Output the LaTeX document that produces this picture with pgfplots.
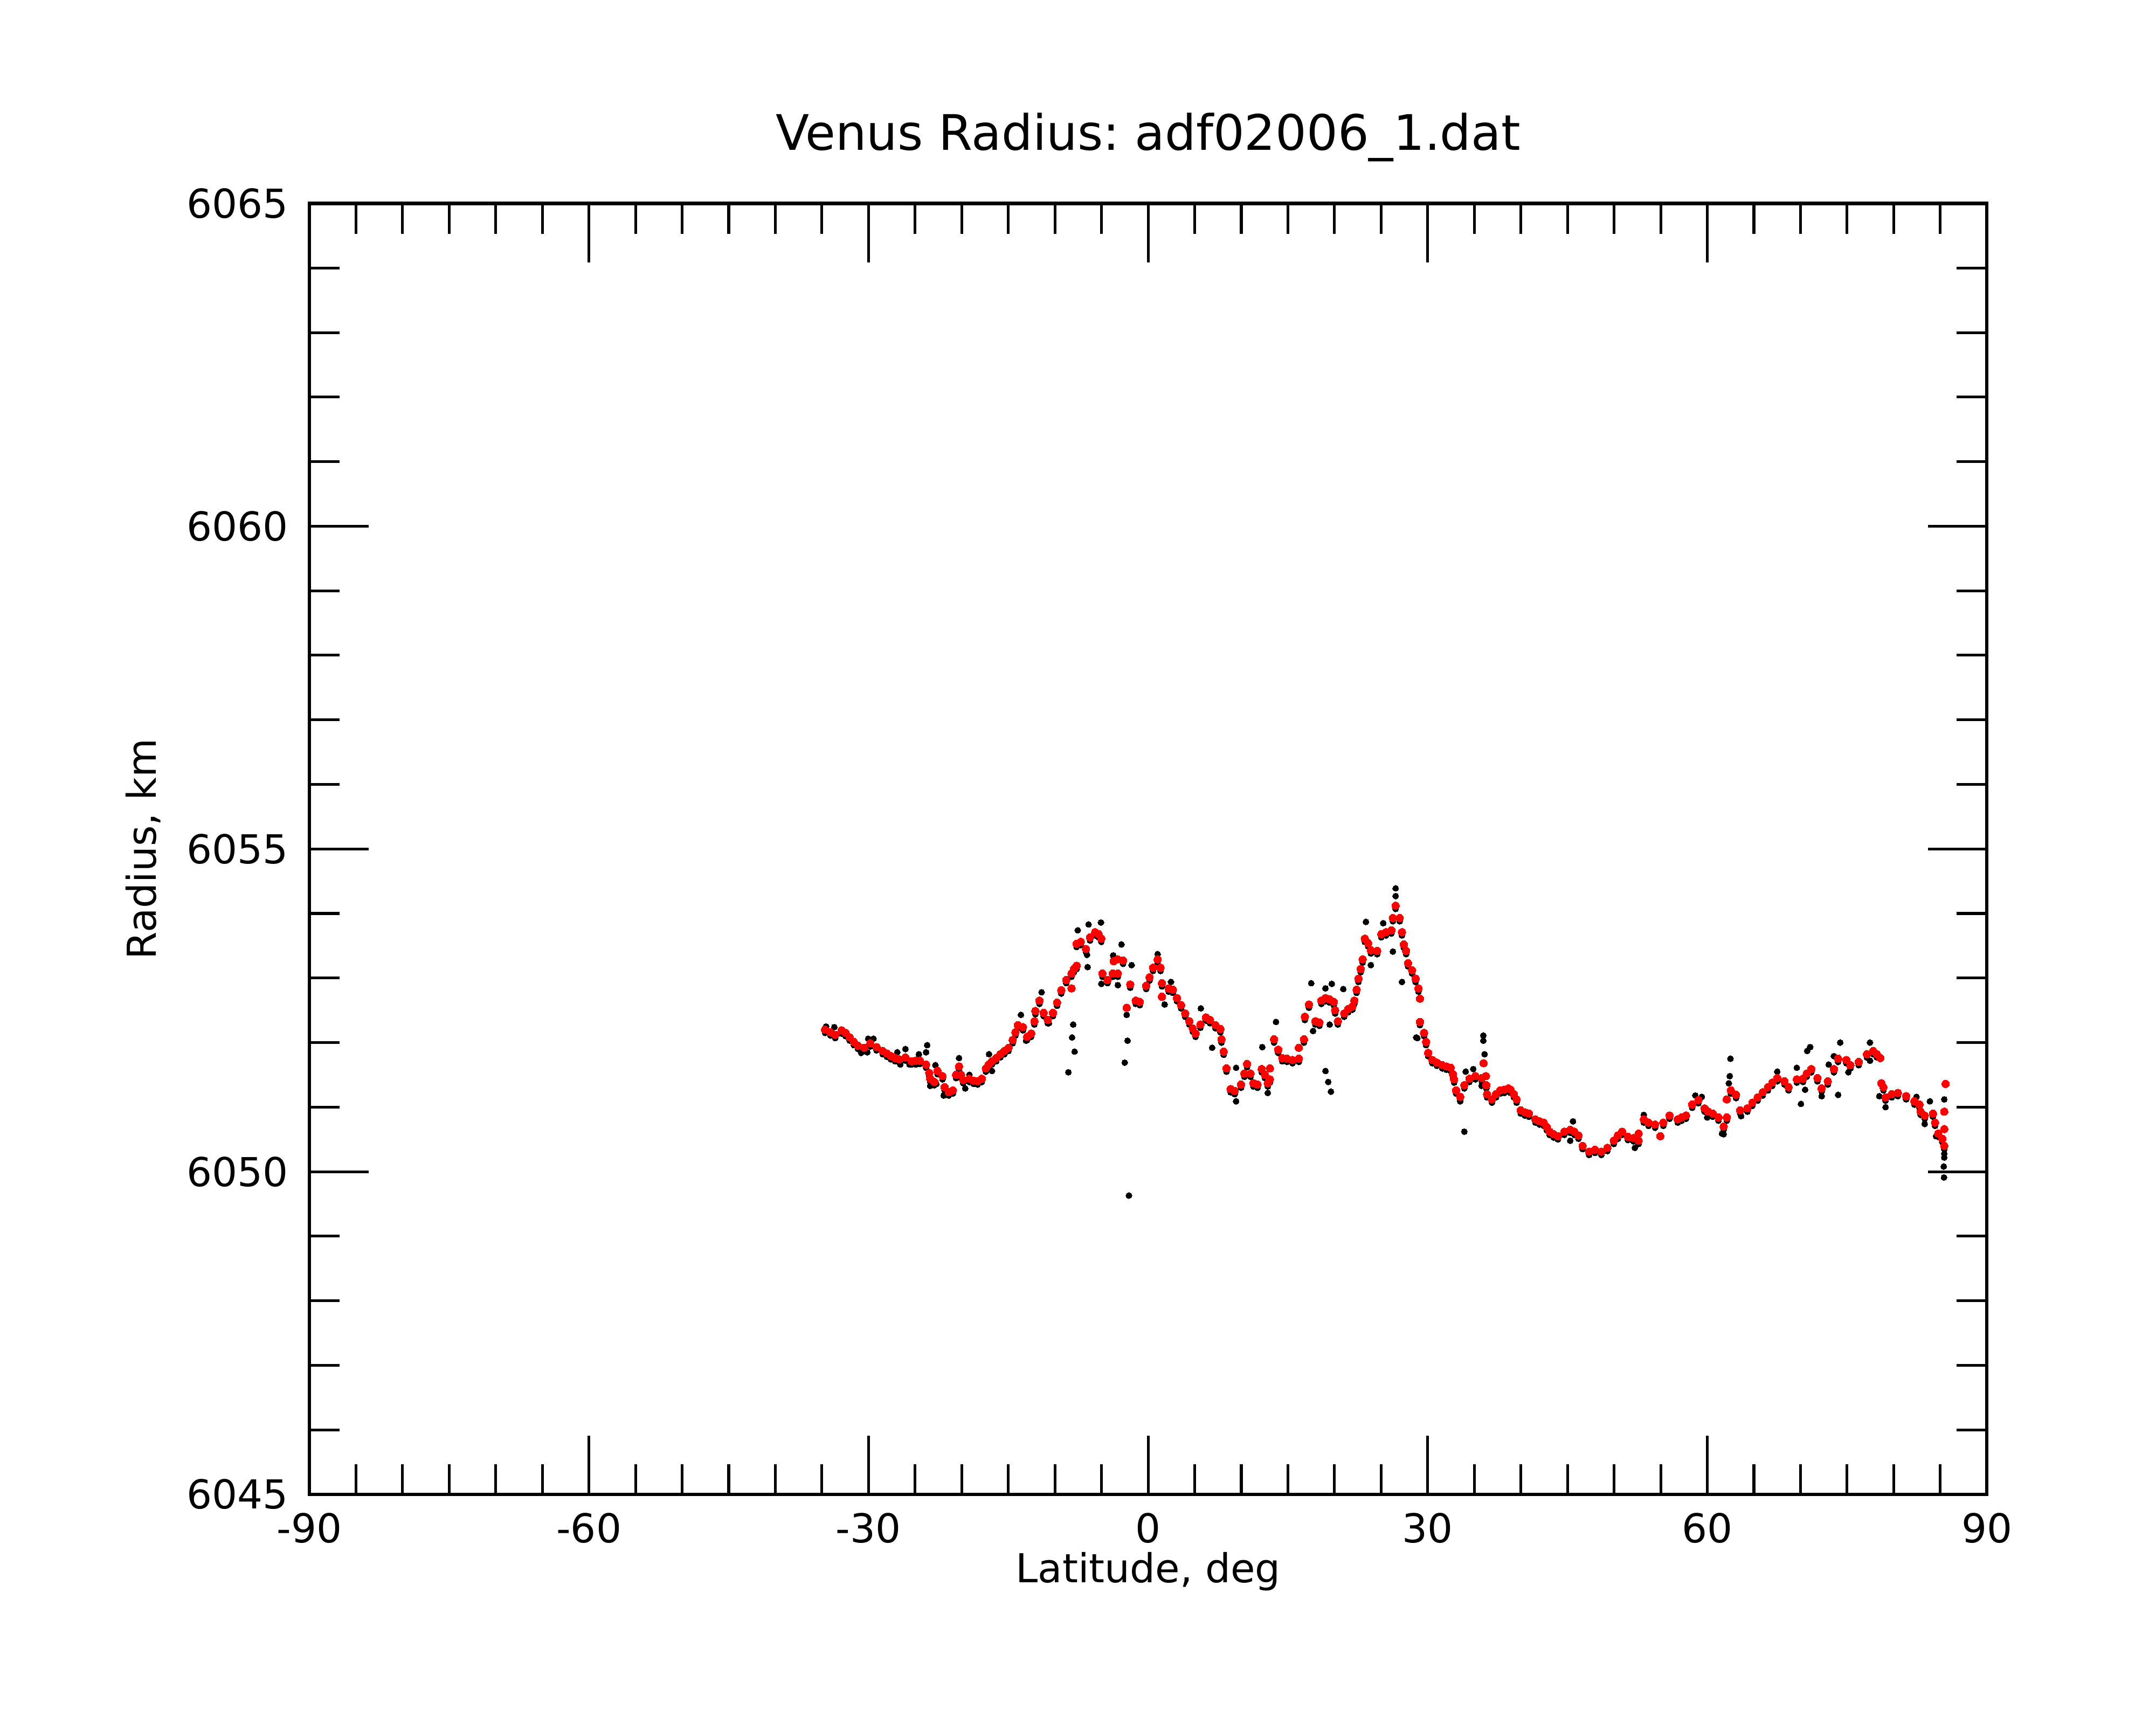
\documentclass[border=0pt]{standalone}
\usepackage{fontspec}
\setmainfont{DejaVu Sans}
\usepackage{pgfplots}
\usepackage{pgfplotstable}
\pgfplotsset{compat=1.18}
\frenchspacing
\pgfplotstableread{
lat R
-34.67 6052.20
-34.08 6052.16
-33.57 6052.12
-32.90 6052.19
-32.46 6052.15
-32.02 6052.08
-31.57 6052.01
-31.13 6051.95
-30.47 6051.92
-29.80 6051.99
-29.14 6051.93
-28.48 6051.87
-28.03 6051.83
-27.59 6051.79
-27.15 6051.76
-26.71 6051.74
-26.04 6051.77
-25.38 6051.71
-24.93 6051.72
-24.49 6051.72
-23.83 6051.66
-23.49 6051.53
-23.39 6051.44
-22.94 6051.39
-22.60 6051.56
-22.06 6051.48
-21.84 6051.31
-21.39 6051.23
-20.95 6051.26
-20.61 6051.50
-20.29 6051.63
-20.07 6051.50
-19.84 6051.42
-19.18 6051.44
-18.74 6051.41
-18.30 6051.40
-17.85 6051.44
-17.41 6051.60
-17.11 6051.66
-16.75 6051.71
-16.30 6051.76
-15.86 6051.82
-15.42 6051.87
-14.98 6051.92
-14.53 6052.04
-14.24 6052.16
-13.97 6052.27
-13.43 6052.24
-12.98 6052.09
-12.54 6052.14
-12.20 6052.33
-12.10 6052.49
-11.66 6052.65
-11.21 6052.46
-10.77 6052.35
-10.21 6052.46
-9.77 6052.62
-9.32 6052.81
-8.78 6052.97
-8.22 6053.07
-7.97 6053.14
-7.67 6053.19
-8.22 6052.84
-7.67 6053.53
-7.23 6053.56
-6.67 6053.45
-6.23 6053.63
-5.68 6053.71
-5.31 6053.68
-5.02 6053.61
-4.90 6053.07
-4.35 6052.97
-3.79 6053.07
-3.25 6053.07
-3.69 6053.26
-3.25 6053.29
-2.69 6053.27
-2.30 6052.54
-1.92 6052.90
-1.33 6052.65
-0.89 6052.63
-0.21 6052.88
0.15 6053.01
0.53 6053.16
1.02 6053.29
1.33 6053.16
1.48 6052.92
1.48 6052.71
2.21 6052.84
2.66 6052.82
3.10 6052.69
3.54 6052.58
3.98 6052.45
4.43 6052.33
4.79 6052.22
5.10 6052.14
5.61 6052.28
6.20 6052.39
6.64 6052.35
7.23 6052.27
7.76 6052.21
7.88 6052.05
8.11 6051.86
8.41 6051.60
8.85 6051.28
9.29 6051.25
9.97 6051.35
10.33 6051.52
10.62 6051.67
10.99 6051.52
11.30 6051.37
11.74 6051.35
12.19 6051.59
12.54 6051.50
12.84 6051.37
13.07 6051.60
13.07 6051.43
13.51 6052.05
13.96 6051.89
14.40 6051.76
14.90 6051.75
15.49 6051.73
16.17 6051.92
16.17 6051.75
16.73 6052.05
16.82 6052.40
17.26 6052.59
17.94 6052.33
18.38 6052.31
18.59 6052.65
19.03 6052.69
19.48 6052.67
19.92 6052.63
20.07 6052.50
20.36 6052.33
21.04 6052.45
21.48 6052.52
21.92 6052.56
22.13 6052.65
22.37 6052.82
22.57 6052.99
22.81 6053.14
23.02 6053.29
23.25 6053.61
23.61 6053.54
23.90 6053.43
24.58 6053.42
25.02 6053.68
25.52 6053.71
26.11 6053.74
26.26 6053.93
26.56 6054.12
27.00 6053.93
27.24 6053.71
27.44 6053.52
27.68 6053.42
27.89 6053.23
28.33 6053.12
28.70 6052.99
29.01 6052.84
29.17 6052.68
29.17 6052.32
29.61 6052.15
29.83 6052.01
30.05 6051.84
30.50 6051.73
30.98 6051.69
31.57 6051.65
32.00 6051.63
32.46 6051.61
32.71 6051.51
32.83 6051.43
33.05 6051.26
33.49 6051.16
33.93 6051.34
34.48 6051.44
35.11 6051.48
35.81 6051.45
36.00 6051.68
36.25 6051.48
36.29 6051.34
36.37 6051.20
36.89 6051.12
37.33 6051.20
37.77 6051.26
38.21 6051.27
38.66 6051.29
38.91 6051.27
39.25 6051.20
39.54 6051.12
39.98 6050.95
40.43 6050.92
40.87 6050.90
41.56 6050.81
42.00 6050.78
42.45 6050.76
42.79 6050.69
43.08 6050.62
43.52 6050.58
43.97 6050.55
44.66 6050.62
45.29 6050.65
45.74 6050.62
46.18 6050.56
46.62 6050.40
47.32 6050.31
47.95 6050.34
48.64 6050.31
49.28 6050.37
49.97 6050.48
50.41 6050.56
50.86 6050.62
51.49 6050.54
52.08 6050.52
52.63 6050.48
52.63 6050.59
53.19 6050.81
53.70 6050.76
54.40 6050.73
54.96 6050.55
55.28 6050.76
55.95 6050.87
56.83 6050.81
57.25 6050.84
57.72 6050.87
58.38 6051.04
59.05 6051.11
59.71 6050.98
60.09 6050.93
60.59 6050.90
61.20 6050.84
61.76 6050.70
62.09 6050.84
62.09 6051.12
62.53 6051.26
63.09 6051.19
63.53 6050.95
64.30 6050.98
64.84 6051.07
65.40 6051.15
65.95 6051.23
66.51 6051.31
66.98 6051.38
67.51 6051.45
68.28 6051.40
68.72 6051.31
69.61 6051.43
70.27 6051.44
70.67 6051.52
71.16 6051.59
71.82 6051.45
72.27 6051.29
72.93 6051.40
73.59 6051.59
74.04 6051.75
74.92 6051.73
75.36 6051.65
76.25 6051.70
77.13 6051.82
77.80 6051.87
78.20 6051.82
78.57 6051.76
78.68 6051.37
78.90 6051.31
79.13 6051.15
79.79 6051.20
80.45 6051.22
81.34 6051.17
82.22 6051.09
82.77 6051.04
82.89 6050.93
83.33 6050.87
84.22 6050.90
84.44 6050.76
84.78 6050.59
85.22 6050.51
85.43 6050.40
85.43 6050.66
85.43 6050.93
85.57 6051.36
}\redtab
\pgfplotstableread{
lat R
-34.67 6052.15
-34.08 6052.11
-33.57 6052.07
-32.90 6052.14
-32.46 6052.10
-32.02 6052.03
-31.57 6051.96
-31.13 6051.90
-30.47 6051.87
-29.80 6051.94
-29.14 6051.88
-28.48 6051.82
-28.03 6051.78
-27.59 6051.74
-27.15 6051.71
-26.71 6051.69
-26.04 6051.72
-25.38 6051.66
-24.93 6051.67
-24.49 6051.67
-23.83 6051.61
-23.49 6051.48
-23.39 6051.39
-22.94 6051.34
-22.60 6051.51
-22.06 6051.43
-21.84 6051.26
-21.39 6051.18
-20.95 6051.21
-20.61 6051.45
-20.29 6051.58
-20.07 6051.45
-19.84 6051.37
-19.18 6051.39
-18.74 6051.36
-18.30 6051.35
-17.85 6051.39
-17.41 6051.55
-17.11 6051.61
-16.75 6051.66
-16.30 6051.71
-15.86 6051.77
-15.42 6051.82
-14.98 6051.87
-14.53 6051.99
-14.24 6052.11
-13.97 6052.22
-13.43 6052.19
-12.98 6052.04
-12.54 6052.09
-12.20 6052.28
-12.10 6052.44
-11.66 6052.60
-11.21 6052.41
-10.77 6052.30
-10.21 6052.41
-9.77 6052.57
-9.32 6052.76
-8.78 6052.92
-8.22 6053.02
-7.97 6053.09
-7.67 6053.14
-7.67 6053.48
-7.23 6053.51
-6.67 6053.40
-6.23 6053.58
-5.68 6053.66
-5.31 6053.63
-5.02 6053.56
-4.90 6053.02
-4.35 6052.92
-3.79 6053.02
-3.25 6053.02
-2.69 6053.22
-1.92 6052.85
-1.33 6052.60
-0.89 6052.58
-0.21 6052.83
0.15 6052.96
0.53 6053.11
1.02 6053.24
1.33 6053.11
1.48 6052.87
2.21 6052.79
2.66 6052.77
3.10 6052.64
3.54 6052.53
3.98 6052.40
4.43 6052.28
4.79 6052.17
5.10 6052.09
5.61 6052.23
6.20 6052.34
6.64 6052.30
7.23 6052.22
7.76 6052.16
7.88 6052.00
8.11 6051.81
8.41 6051.55
8.85 6051.23
9.29 6051.20
9.97 6051.30
10.33 6051.47
10.62 6051.62
10.99 6051.47
11.30 6051.32
11.74 6051.30
12.19 6051.54
12.54 6051.45
12.84 6051.32
13.07 6051.38
13.51 6052.00
13.96 6051.84
14.40 6051.71
14.90 6051.70
15.49 6051.68
16.17 6051.70
16.73 6052.00
16.82 6052.35
17.26 6052.54
17.94 6052.28
18.38 6052.26
18.59 6052.60
19.03 6052.64
19.48 6052.62
19.92 6052.58
20.07 6052.45
20.36 6052.28
21.04 6052.40
21.48 6052.47
21.92 6052.51
22.13 6052.60
22.37 6052.77
22.57 6052.94
22.81 6053.09
23.02 6053.24
23.25 6053.56
23.61 6053.49
23.90 6053.38
24.58 6053.37
25.02 6053.63
25.52 6053.66
26.11 6053.69
26.26 6053.88
26.56 6054.07
27.00 6053.88
27.24 6053.66
27.44 6053.47
27.68 6053.37
27.89 6053.18
28.33 6053.07
28.70 6052.94
29.01 6052.79
29.17 6052.27
29.61 6052.10
29.83 6051.96
30.05 6051.79
30.50 6051.68
30.98 6051.64
31.57 6051.60
32.00 6051.58
32.46 6051.56
32.71 6051.46
32.83 6051.38
33.05 6051.21
33.49 6051.11
33.93 6051.29
34.48 6051.39
35.11 6051.43
35.81 6051.40
36.29 6051.29
36.37 6051.15
36.89 6051.07
37.33 6051.15
37.77 6051.21
38.21 6051.22
38.66 6051.24
38.91 6051.22
39.25 6051.15
39.54 6051.07
39.98 6050.90
40.43 6050.87
40.87 6050.85
41.56 6050.76
42.00 6050.73
42.45 6050.71
42.79 6050.64
43.08 6050.57
43.52 6050.53
43.97 6050.50
44.66 6050.57
45.29 6050.60
45.74 6050.57
46.18 6050.51
46.62 6050.35
47.32 6050.26
47.95 6050.29
48.64 6050.26
49.28 6050.32
49.97 6050.43
50.41 6050.51
50.86 6050.57
51.49 6050.49
52.08 6050.47
52.63 6050.43
53.19 6050.76
53.70 6050.71
54.40 6050.68
55.28 6050.71
55.95 6050.82
56.83 6050.76
57.25 6050.79
57.72 6050.82
58.38 6050.99
59.05 6051.06
59.71 6050.93
60.09 6050.88
60.59 6050.85
61.20 6050.79
61.76 6050.65
62.09 6050.79
62.53 6051.21
63.09 6051.14
63.53 6050.90
64.30 6050.93
64.84 6051.02
65.40 6051.10
65.95 6051.18
66.51 6051.26
66.98 6051.33
67.51 6051.40
68.28 6051.35
68.72 6051.26
69.61 6051.38
70.27 6051.39
70.67 6051.47
71.16 6051.54
71.82 6051.40
72.27 6051.24
72.93 6051.35
73.59 6051.54
74.04 6051.70
74.92 6051.68
75.36 6051.60
76.25 6051.65
77.13 6051.77
77.80 6051.82
78.20 6051.77
78.90 6051.26
79.13 6051.10
79.79 6051.15
80.45 6051.17
81.34 6051.12
82.22 6051.04
82.77 6050.99
82.89 6050.88
83.33 6050.82
84.22 6050.85
84.44 6050.71
84.78 6050.54
85.22 6050.46
85.43 6050.35
-34.56 6052.25
-33.67 6052.24
-30.79 6051.84
-30.13 6051.85
-30.03 6052.06
-29.47 6052.06
-26.92 6051.85
-26.59 6051.66
-26.04 6051.90
-25.60 6051.66
-24.93 6051.66
-24.60 6051.82
-23.71 6051.96
-23.83 6051.85
-23.39 6051.33
-22.72 6051.36
-22.82 6051.65
-21.94 6051.18
-20.29 6051.76
-19.62 6051.29
-19.18 6051.50
-18.30 6051.37
-17.07 6051.82
-16.75 6051.56
-13.65 6052.43
-13.09 6052.03
-11.43 6052.78
-10.65 6052.30
-8.56 6051.54
-8.04 6052.28
-8.16 6052.08
-7.89 6051.86
-7.55 6053.74
-6.39 6053.83
-5.06 6053.86
-6.49 6053.17
-6.56 6053.36
-5.02 6052.91
-3.25 6052.89
-2.51 6051.69
-2.21 6052.03
-2.06 6049.63
-2.30 6052.43
-2.86 6053.52
-3.75 6053.35
-1.77 6053.20
1.02 6053.37
2.45 6052.94
1.77 6052.59
5.66 6052.53
6.87 6051.92
9.44 6051.61
9.44 6051.09
12.25 6051.93
12.84 6051.22
13.72 6052.32
17.70 6052.18
17.50 6052.92
19.03 6052.84
19.71 6052.91
20.94 6052.83
19.03 6051.56
19.33 6051.39
19.62 6051.24
19.48 6052.28
23.37 6053.87
25.23 6053.85
23.90 6053.20
26.26 6053.41
26.56 6054.39
26.56 6054.27
27.24 6052.94
28.77 6052.08
28.89 6052.07
35.97 6052.11
35.97 6052.03
36.10 6051.82
34.89 6051.59
34.08 6051.55
33.93 6050.62
33.49 6051.09
35.78 6051.33
45.59 6050.78
45.29 6050.48
53.19 6050.88
52.23 6050.37
58.72 6051.18
59.41 6051.16
61.58 6050.59
62.49 6051.75
62.41 6051.48
62.31 6051.37
61.76 6050.58
59.99 6050.84
63.63 6050.86
70.05 6051.05
71.04 6051.93
70.72 6051.87
70.50 6051.27
69.61 6051.61
67.51 6051.55
72.27 6051.17
73.59 6051.79
74.26 6052.00
74.04 6051.19
73.03 6051.66
77.46 6052.00
77.46 6051.72
75.14 6051.54
78.46 6051.17
79.13 6051.00
82.45 6051.16
83.33 6050.74
83.89 6051.09
85.43 6051.12
85.43 6050.28
85.43 6050.22
85.37 6050.08
85.40 6049.91
84.55 6050.55
}\blacktab
\begin{document}
\fontsize{14.5pt}{17pt}\selectfont
\begin{tikzpicture}
\useasboundingbox (0,0) rectangle (784pt,627pt);
\begin{axis}[
  at={(112.5pt,83.5pt)}, anchor=south west,
  width=610pt, height=469.5pt, scale only axis,
  xmin=-90, xmax=90, ymin=6045, ymax=6065,
  xtick={-90,-60,-30,0,30,60,90},
  ytick={6045,6050,6055,6060,6065},
  xticklabels={-90,-60,-30,0,30,60,90},
  yticklabels={6045,6050,6055,6060,6065},
  minor x tick num=5, minor y tick num=4,
  tick align=inside,
  major tick length=21.5pt, minor tick length=11pt,
  every tick/.style={black, line width=1pt},
  axis line style={line width=1.25pt},
  xticklabel style={inner sep=0pt, anchor=north, yshift=-6.5pt},
  yticklabel style={inner sep=0pt, anchor=east, xshift=-7.5pt},
  every axis title shift=0pt,
  title={\frenchspacing Venus Radius: adf02006\_1.dat},
  title style={at={(axis description cs:0.5,1.0415)}, anchor=base, inner sep=0pt, font=\fontsize{17.8pt}{20pt}\selectfont\frenchspacing},
  xlabel={Latitude, deg},
  xlabel style={at={(axis description cs:0.5,-0.0682)}, anchor=base, inner sep=0pt, font=\frenchspacing},
  ylabel={Radius, km},
  ylabel style={at={(axis description cs:-0.0992,0.5)}, anchor=center, inner sep=0pt, font=\frenchspacing},
]
\addplot[only marks, mark=*, mark size=1.1pt, mark options={draw=black, fill=black, line width=0pt}] table[x=lat, y=R] {\blacktab};
\addplot[only marks, mark=*, mark size=1.4pt, mark options={draw=red, fill=red, line width=0pt}] table[x=lat, y=R] {\redtab};
\end{axis}
\end{tikzpicture}
\end{document}
